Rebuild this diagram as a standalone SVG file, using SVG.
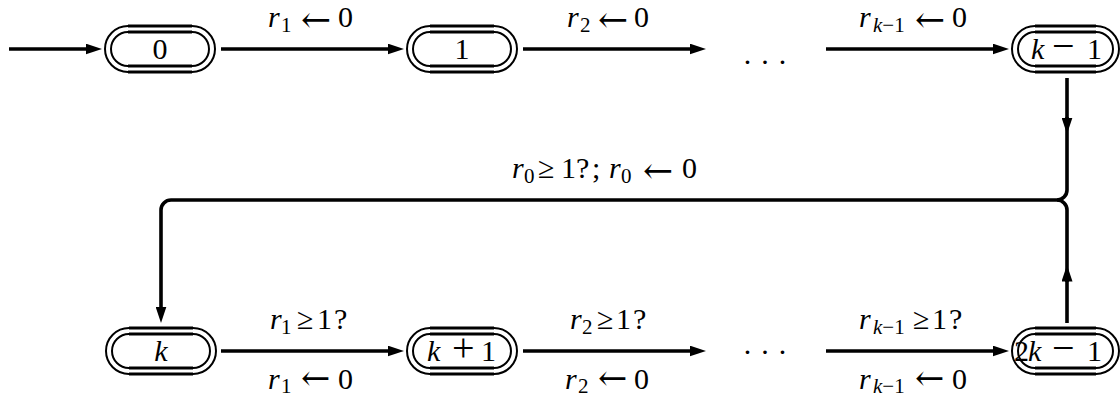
<svg xmlns="http://www.w3.org/2000/svg" width="1120" height="398" viewBox="0 0 1120 398">
<style>
.ln{fill:none;stroke:#000;stroke-width:3.6}
.cap{fill:none;stroke:#000;stroke-width:2}
.capl{fill:none;stroke:#000;stroke-width:3}
</style>
<defs>
<marker id="ah" markerUnits="userSpaceOnUse" markerWidth="17" markerHeight="11" refX="0.5" refY="5.5" orient="auto">
<path d="M0,0 L16.5,5.5 L0,11 z" fill="#000"/>
</marker>
</defs>
<rect width="1120" height="398" fill="#fff"/>
<g id="connectors">
<path class="ln" d="M9,49 H86" marker-end="url(#ah)"/>
<path class="ln" d="M221,49 H388" marker-end="url(#ah)"/>
<path class="ln" d="M523,49 H690" marker-end="url(#ah)"/>
<path class="ln" d="M826,49 H993" marker-end="url(#ah)"/>
<path class="ln" d="M221,351 H388" marker-end="url(#ah)"/>
<path class="ln" d="M523,351 H690" marker-end="url(#ah)"/>
<path class="ln" d="M826,351 H993" marker-end="url(#ah)"/>
<path class="ln" d="M1067,78 V118" marker-end="url(#ah)"/>
<path class="ln" d="M1067,117 V190 A10,10 0 0 1 1057,200 H171 A10,10 0 0 0 161,210 V307" marker-end="url(#ah)"/>
<path class="ln" d="M1067,323 V281" marker-end="url(#ah)"/>
<path class="ln" d="M1067,282 V210 A10,10 0 0 0 1057,200"/>
</g>
<g id="labels">
<text font-family="Liberation Serif" font-size="30"><tspan font-style="italic" x="268" y="27">r</tspan><tspan font-size="21" x="281" y="32">1</tspan><tspan font-family="DejaVu Serif" font-size="36" x="301" y="32">←</tspan><tspan x="338" y="27">0</tspan></text>
<text font-family="Liberation Serif" font-size="30"><tspan font-style="italic" x="567" y="27">r</tspan><tspan font-size="21" x="580" y="32">2</tspan><tspan font-family="DejaVu Serif" font-size="36" x="598" y="32">←</tspan><tspan x="634" y="27">0</tspan></text>
<text font-family="Liberation Serif" font-size="30"><tspan font-style="italic" x="859" y="27">r</tspan><tspan font-size="21" x="873" y="32"><tspan font-style="italic">k</tspan>−1</tspan><tspan font-family="DejaVu Serif" font-size="36" x="915" y="32">←</tspan><tspan x="952" y="27">0</tspan></text>
<text font-family="Liberation Serif" font-size="30" x="765" y="72" text-anchor="middle">· · ·</text>
<text font-family="Liberation Serif" font-size="30"><tspan font-style="italic" x="512" y="178">r</tspan><tspan font-size="21" x="524" y="183">0</tspan><tspan x="538" y="178">≥</tspan><tspan x="561" y="178">1</tspan><tspan x="576" y="178">?</tspan><tspan x="592" y="178">;</tspan><tspan font-style="italic" x="609" y="178">r</tspan><tspan font-size="21" x="621" y="183">0</tspan><tspan font-family="DejaVu Serif" font-size="36" x="643" y="183">←</tspan><tspan x="682" y="178">0</tspan></text>
<text font-family="Liberation Serif" font-size="30"><tspan font-style="italic" x="270" y="329">r</tspan><tspan font-size="21" x="281" y="334">1</tspan><tspan x="297" y="329">≥</tspan><tspan x="317" y="329">1</tspan><tspan x="334" y="329">?</tspan></text>
<text font-family="Liberation Serif" font-size="30"><tspan font-style="italic" x="570" y="329">r</tspan><tspan font-size="21" x="582" y="334">2</tspan><tspan x="597" y="329">≥</tspan><tspan x="616" y="329">1</tspan><tspan x="633" y="329">?</tspan></text>
<text font-family="Liberation Serif" font-size="30"><tspan font-style="italic" x="859" y="329">r</tspan><tspan font-size="21" x="873" y="334"><tspan font-style="italic">k</tspan>−1</tspan><tspan x="913" y="329">≥</tspan><tspan x="932" y="329">1</tspan><tspan x="949" y="329">?</tspan></text>
<text font-family="Liberation Serif" font-size="30"><tspan font-style="italic" x="268" y="389">r</tspan><tspan font-size="21" x="281" y="393">1</tspan><tspan font-family="DejaVu Serif" font-size="35" x="301" y="390">←</tspan><tspan x="338" y="389">0</tspan></text>
<text font-family="Liberation Serif" font-size="30"><tspan font-style="italic" x="565" y="389">r</tspan><tspan font-size="21" x="578" y="393">2</tspan><tspan font-family="DejaVu Serif" font-size="35" x="598" y="390">←</tspan><tspan x="634" y="389">0</tspan></text>
<text font-family="Liberation Serif" font-size="30"><tspan font-style="italic" x="859" y="389">r</tspan><tspan font-size="21" x="873" y="393"><tspan font-style="italic">k</tspan>−1</tspan><tspan font-family="DejaVu Serif" font-size="35" x="915" y="390">←</tspan><tspan x="952" y="389">0</tspan></text>
<text font-family="Liberation Serif" font-size="30" x="765" y="362" text-anchor="middle">· · ·</text>
</g>
<g id="n0">
<rect class="cap" x="105" y="26" width="110" height="46" rx="23"/>
<rect class="cap" x="111" y="32" width="98" height="34" rx="17"/>
<path class="capl" d="M128,26 H192 M128,72 H192 M128,32 H192 M128,66 H192"/>
<text font-family="Liberation Serif" font-size="30" x="160" y="59" text-anchor="middle">0</text>
</g>
<g id="n1">
<rect class="cap" x="407" y="26" width="110" height="46" rx="23"/>
<rect class="cap" x="413" y="32" width="98" height="34" rx="17"/>
<path class="capl" d="M430,26 H494 M430,72 H494 M430,32 H494 M430,66 H494"/>
<text font-family="Liberation Serif" font-size="30" x="462" y="59" text-anchor="middle">1</text>
</g>
<g id="nk1">
<rect class="cap" x="1012" y="26" width="107" height="46" rx="23"/>
<rect class="cap" x="1018" y="32" width="95" height="34" rx="17"/>
<path class="capl" d="M1035,26 H1096 M1035,72 H1096 M1035,32 H1096 M1035,66 H1096"/>
<text font-family="Liberation Serif" font-size="30" y="59"><tspan font-style="italic" x="1031">k</tspan><tspan font-size="40" x="1052">−</tspan><tspan x="1087">1</tspan></text>
</g>
<g id="nk">
<rect class="cap" x="106" y="328" width="110" height="46" rx="23"/>
<rect class="cap" x="112" y="334" width="98" height="34" rx="17"/>
<path class="capl" d="M129,328 H193 M129,374 H193 M129,334 H193 M129,368 H193"/>
<text font-family="Liberation Serif" font-size="30" font-style="italic" x="161" y="361" text-anchor="middle">k</text>
</g>
<g id="nkp1">
<rect class="cap" x="407" y="328" width="110" height="46" rx="23"/>
<rect class="cap" x="413" y="334" width="98" height="34" rx="17"/>
<path class="capl" d="M430,328 H494 M430,374 H494 M430,334 H494 M430,368 H494"/>
<text font-family="Liberation Serif" font-size="30" y="361"><tspan font-style="italic" x="427">k</tspan><tspan font-size="40" x="452">+</tspan><tspan x="481">1</tspan></text>
</g>
<g id="n2k1">
<rect class="cap" x="1012" y="328" width="107" height="46" rx="23"/>
<rect class="cap" x="1018" y="334" width="95" height="34" rx="17"/>
<path class="capl" d="M1035,328 H1096 M1035,374 H1096 M1035,334 H1096 M1035,368 H1096"/>
<text font-family="Liberation Serif" font-size="30" y="361"><tspan x="1014">2</tspan><tspan font-style="italic" x="1028">k</tspan><tspan font-size="40" x="1052">−</tspan><tspan x="1087">1</tspan></text>
</g>
</svg>
